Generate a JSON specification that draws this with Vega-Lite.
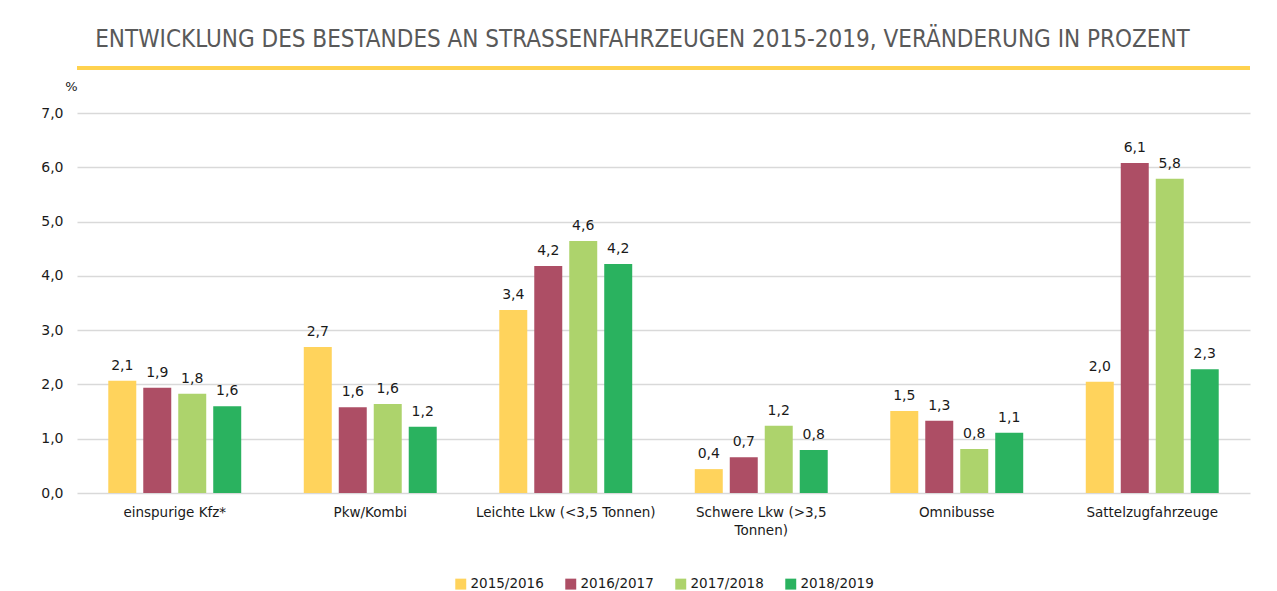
{
  "$schema": "https://vega.github.io/schema/vega-lite/v6.json",
  "width": 1173,
  "height": 380,
  "autosize": {"type": "none"},
  "padding": {"left": 77, "top": 113, "right": 27, "bottom": 98},
  "background": "white",
  "title": {
    "text": "ENTWICKLUNG DES BESTANDES AN STRASSENFAHRZEUGEN 2015-2019, VERÄNDERUNG IN PROZENT",
    "font": "DejaVu Sans Condensed",
    "fontSize": 24,
    "fontWeight": "normal",
    "color": "#595959",
    "anchor": "middle",
    "frame": "group",
    "dx": -21,
    "offset": 14
  },
  "config": {
    "locale": {"number": {"decimal": ",", "thousands": ".", "grouping": [3], "currency": ["", " €"]}},
    "view": {"stroke": null},
    "font": "DejaVu Sans",
    "legend": {"layout": {"bottom": {"anchor": "middle"}}}
  },
  "data": {
    "values": [
      {"kategorie": "einspurige Kfz*", "zeitraum": "2015/2016", "wert": 2.07},
      {"kategorie": "einspurige Kfz*", "zeitraum": "2016/2017", "wert": 1.94},
      {"kategorie": "einspurige Kfz*", "zeitraum": "2017/2018", "wert": 1.83},
      {"kategorie": "einspurige Kfz*", "zeitraum": "2018/2019", "wert": 1.6},
      {"kategorie": "Pkw/Kombi", "zeitraum": "2015/2016", "wert": 2.69},
      {"kategorie": "Pkw/Kombi", "zeitraum": "2016/2017", "wert": 1.58},
      {"kategorie": "Pkw/Kombi", "zeitraum": "2017/2018", "wert": 1.64},
      {"kategorie": "Pkw/Kombi", "zeitraum": "2018/2019", "wert": 1.22},
      {"kategorie": "Leichte Lkw (<3,5 Tonnen)", "zeitraum": "2015/2016", "wert": 3.37},
      {"kategorie": "Leichte Lkw (<3,5 Tonnen)", "zeitraum": "2016/2017", "wert": 4.18},
      {"kategorie": "Leichte Lkw (<3,5 Tonnen)", "zeitraum": "2017/2018", "wert": 4.64},
      {"kategorie": "Leichte Lkw (<3,5 Tonnen)", "zeitraum": "2018/2019", "wert": 4.22},
      {"kategorie": "Schwere Lkw (>3,5 Tonnen)", "zeitraum": "2015/2016", "wert": 0.44},
      {"kategorie": "Schwere Lkw (>3,5 Tonnen)", "zeitraum": "2016/2017", "wert": 0.66},
      {"kategorie": "Schwere Lkw (>3,5 Tonnen)", "zeitraum": "2017/2018", "wert": 1.24},
      {"kategorie": "Schwere Lkw (>3,5 Tonnen)", "zeitraum": "2018/2019", "wert": 0.79},
      {"kategorie": "Omnibusse", "zeitraum": "2015/2016", "wert": 1.51},
      {"kategorie": "Omnibusse", "zeitraum": "2016/2017", "wert": 1.33},
      {"kategorie": "Omnibusse", "zeitraum": "2017/2018", "wert": 0.81},
      {"kategorie": "Omnibusse", "zeitraum": "2018/2019", "wert": 1.11},
      {"kategorie": "Sattelzugfahrzeuge", "zeitraum": "2015/2016", "wert": 2.05},
      {"kategorie": "Sattelzugfahrzeuge", "zeitraum": "2016/2017", "wert": 6.08},
      {"kategorie": "Sattelzugfahrzeuge", "zeitraum": "2017/2018", "wert": 5.79},
      {"kategorie": "Sattelzugfahrzeuge", "zeitraum": "2018/2019", "wert": 2.28}
    ]
  },
  "layer": [
    {
      "mark": {"type": "bar"},
      "encoding": {
        "x": {
          "field": "kategorie", "type": "nominal", "sort": null,
          "scale": {"paddingInner": 0.32, "paddingOuter": 0.16},
          "axis": {
            "title": null, "labelAngle": 0, "domain": false, "ticks": false,
            "labelPadding": 12, "labelFontSize": 13.5, "labelColor": "#1a1a1a",
            "labelLimit": 300, "labelLineHeight": 18,
            "labelExpr": "datum.label == 'Schwere Lkw (>3,5 Tonnen)' ? ['Schwere Lkw (>3,5', 'Tonnen)'] : datum.label"
          }
        },
        "xOffset": {"field": "zeitraum", "type": "nominal", "scale": {"paddingInner": 0.2, "paddingOuter": 0}},
        "y": {
          "field": "wert", "type": "quantitative",
          "scale": {"domain": [0, 7], "nice": false},
          "axis": {
            "title": "%", "titleAngle": 0, "titleX": -6, "titleY": -20, "titleFontSize": 13,
            "titleFontWeight": "normal", "titleColor": "#1a1a1a", "titleAlign": "center",
            "values": [0, 1, 2, 3, 4, 5, 6, 7], "format": ".1f",
            "domain": false, "ticks": false, "labelPadding": 14, "labelFontSize": 14,
            "labelColor": "#1a1a1a", "gridColor": "#d9d9d9", "gridWidth": 1.5
          }
        },
        "color": {
          "field": "zeitraum", "type": "nominal",
          "scale": {"domain": ["2015/2016", "2016/2017", "2017/2018", "2018/2019"], "range": ["#FFD35C", "#AD4E65", "#ADD36C", "#2AB25F"]},
          "legend": {
            "title": null, "orient": "bottom", "direction": "horizontal", "offset": 40,
            "symbolType": "square", "symbolSize": 120, "symbolStrokeWidth": 0,
            "labelFontSize": 13.5, "labelColor": "#1a1a1a", "columnPadding": 20, "labelOffset": 3
          }
        }
      }
    },
    {
      "mark": {"type": "text", "baseline": "bottom", "dy": -8, "fontSize": 14, "color": "#1a1a1a"},
      "encoding": {
        "x": {"field": "kategorie", "type": "nominal", "sort": null},
        "xOffset": {"field": "zeitraum", "type": "nominal"},
        "y": {"field": "wert", "type": "quantitative"},
        "text": {"field": "wert", "type": "quantitative", "format": ".1f"}
      }
    },
    {
      "data": {"values": [{}]},
      "mark": {"type": "rule", "color": "#FFD24F", "strokeWidth": 4, "clip": false},
      "encoding": {"y": {"datum": 7.83}}
    }
  ]
}
